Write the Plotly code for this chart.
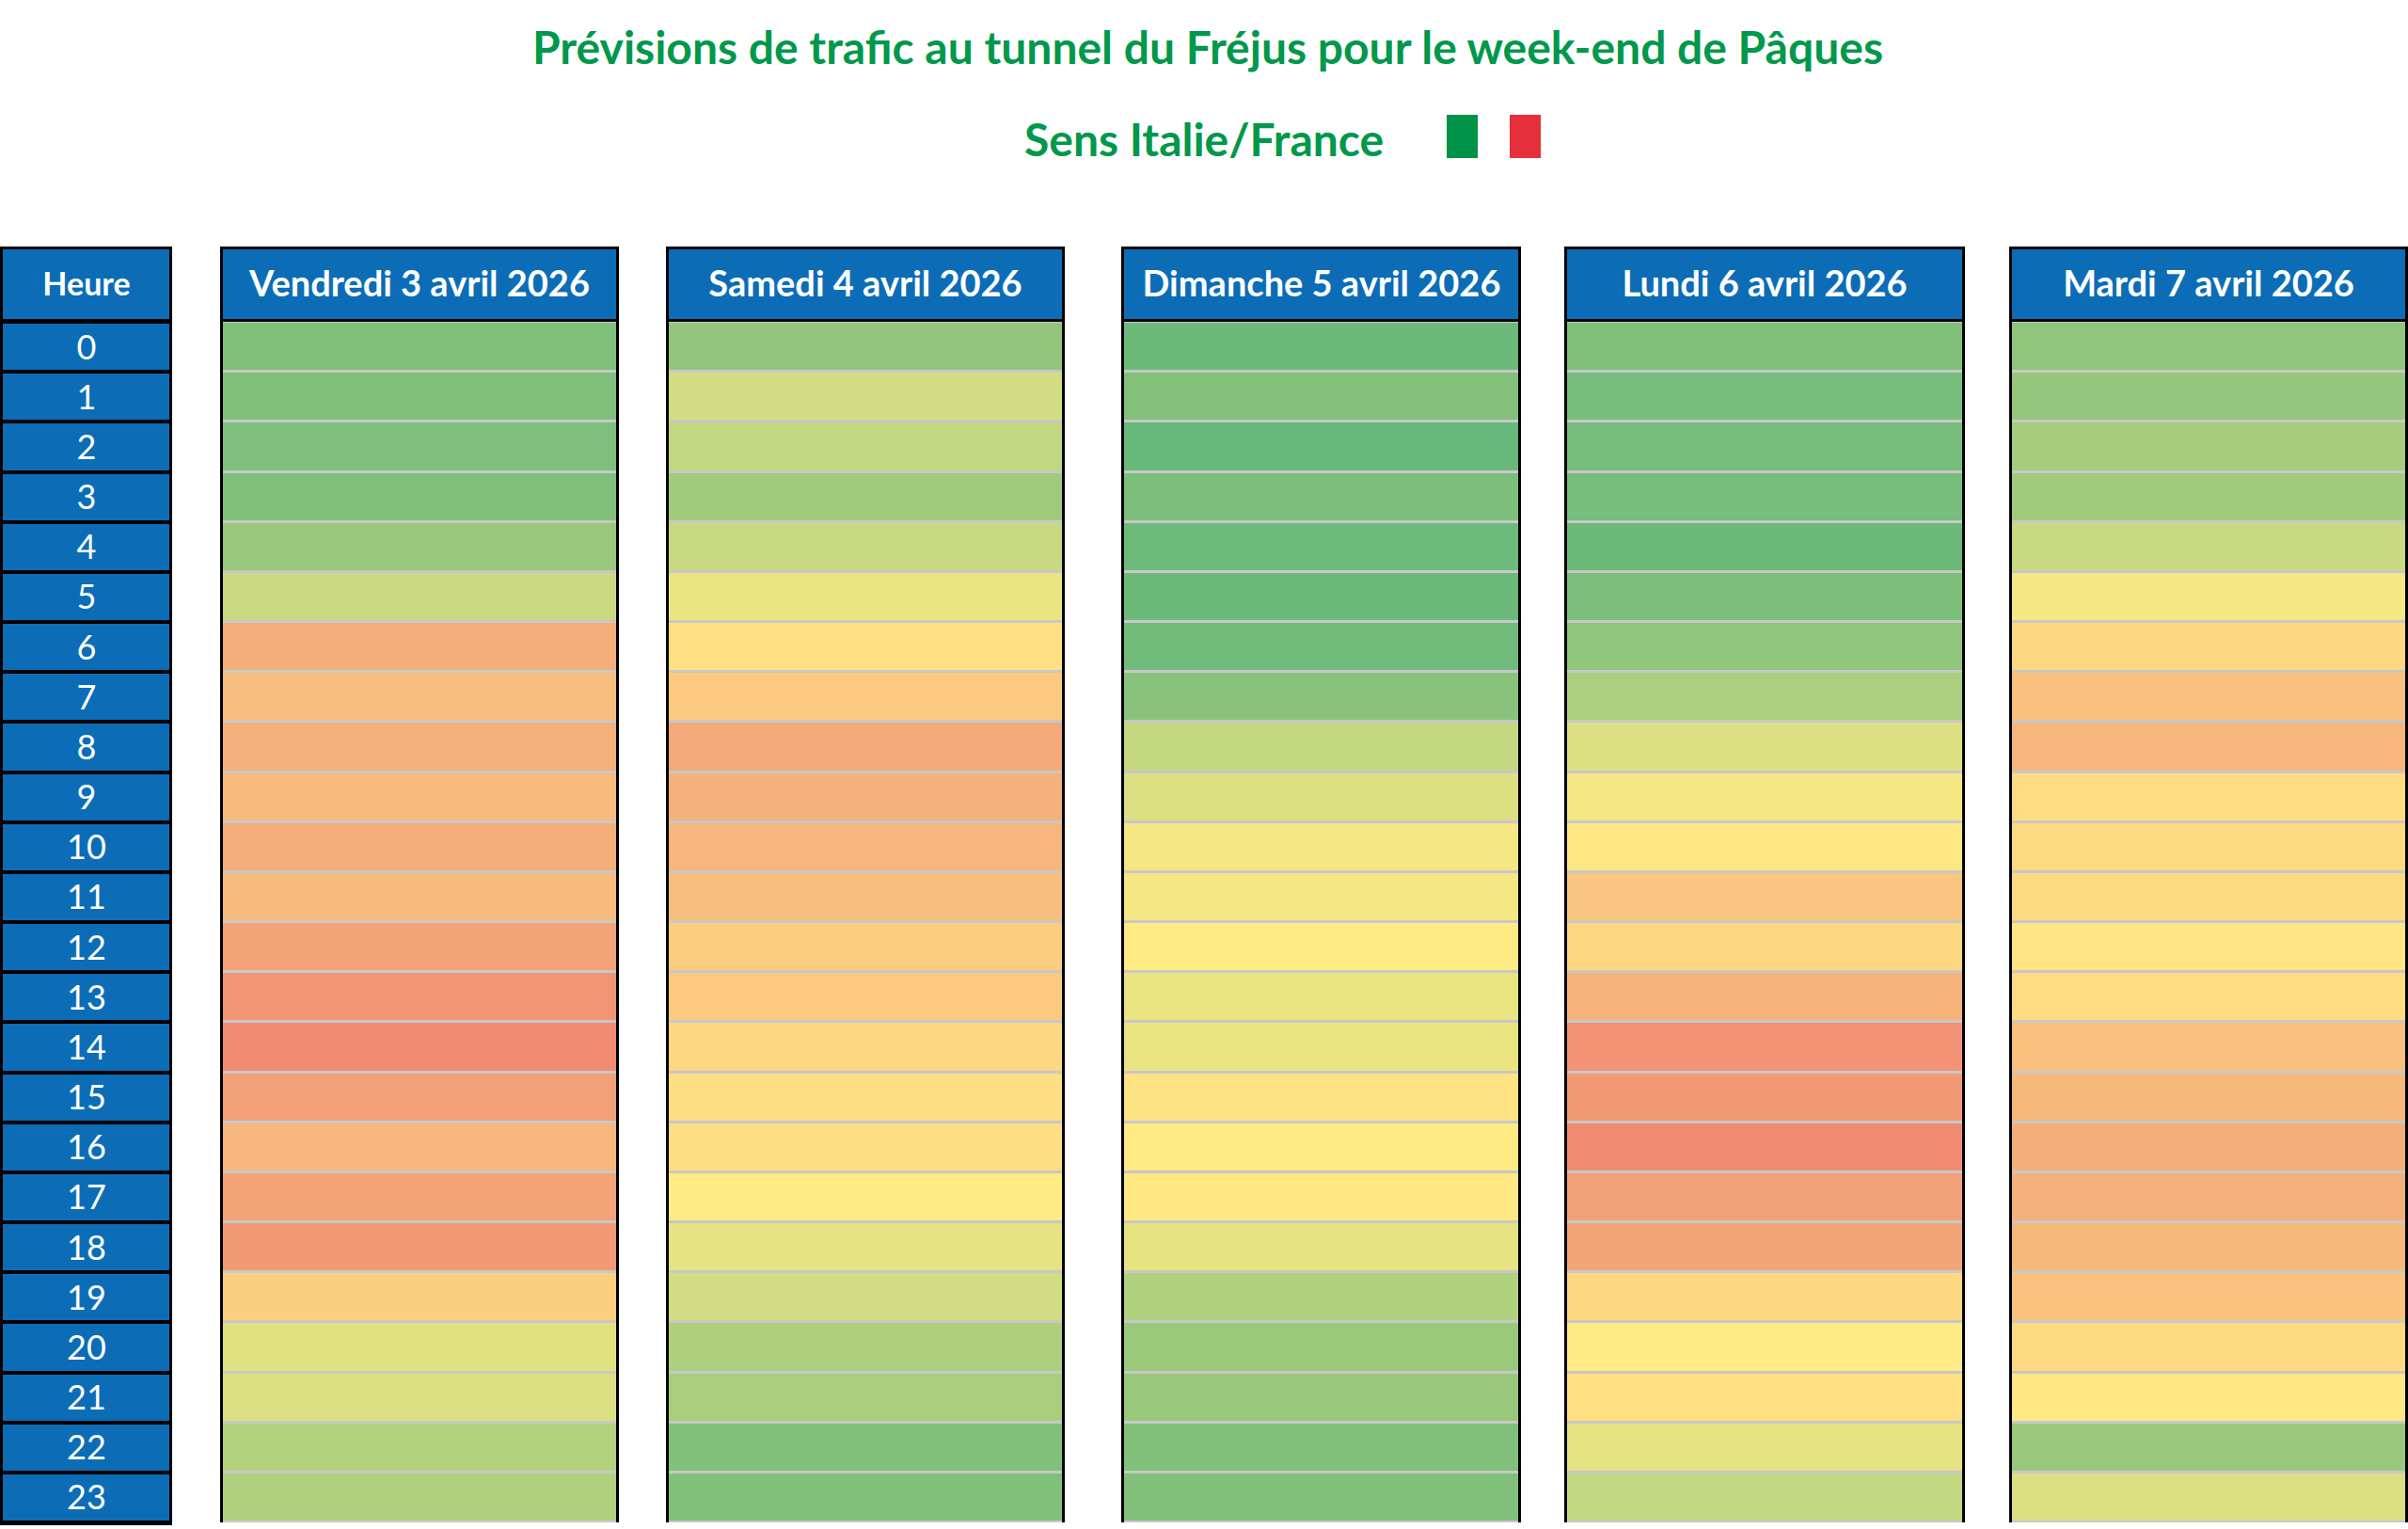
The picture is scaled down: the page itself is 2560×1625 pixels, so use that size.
import plotly.graph_objects as go

# ---------------- data ----------------
titre = "Prévisions de trafic au tunnel du Fréjus pour le week-end de Pâques"
sous_titre = "Sens Italie/France"
entete_heure = "Heure"
heures = ["0", "1", "2", "3", "4", "5", "6", "7", "8", "9", "10", "11",
          "12", "13", "14", "15", "16", "17", "18", "19", "20", "21", "22", "23"]
jours = ["Vendredi 3 avril 2026", "Samedi 4 avril 2026", "Dimanche 5 avril 2026",
         "Lundi 6 avril 2026", "Mardi 7 avril 2026"]

# traffic intensity index (0 = fluide / vert, 50 = jaune, 100 = très chargé / rouge)
vendredi = [12, 12, 11, 12, 20, 38, 74, 68, 73, 69, 74, 69,
            79, 85, 89, 80, 71, 79, 83, 61, 44, 43, 31, 30]
samedi = [18, 40, 35, 23, 37, 46, 54, 63, 76, 73, 71, 68,
          62, 63, 58, 55, 55, 50, 45, 40, 29, 26, 12, 12]
dimanche = [3, 13, 1, 10, 4, 3, 6, 15, 36, 43, 48, 48,
            50, 46, 46, 53, 50, 51, 45, 30, 21, 20, 12, 12]
lundi = [12, 8, 8, 8, 3, 10, 17, 28, 43, 48, 51, 65,
         58, 72, 86, 83, 89, 80, 78, 58, 50, 54, 45, 35]
mardi = [17, 19, 25, 23, 37, 48, 58, 67, 71, 56, 57, 57,
         52, 56, 67, 70, 74, 73, 70, 66, 57, 51, 20, 43]
valeurs = [vendredi, samedi, dimanche, lundi, mardi]

# ---------------- styling ----------------
W, H = 2560, 1625
BLUE = "#0C6DB6"
GREEN_TXT = "#00984A"
GRID = "#C8C8C8"
FONT = "Lato"
SCALE = [[0.00, "#64B87A"], [0.12, "#80C07B"], [0.20, "#99C87C"], [0.30, "#B0D17E"],
         [0.43, "#DCE082"], [0.50, "#FFEA84"], [0.62, "#FCCD80"], [0.74, "#F4AE7A"],
         [0.89, "#F08C72"], [1.00, "#EE806F"]]

col_px = [(3, 180), (237, 655), (711, 1129), (1195, 1614), (1666, 2086), (2139, 2557)]
head_px = (265, 339)
body_px = (342, 1618)


def dom_x(a, b):
    return [a / W, b / W]


def dom_y(top, bottom):
    return [1 - bottom / H, 1 - top / H]


fig = go.Figure()
layout_axes = {}
n_rows = len(heures)
ys = list(range(n_rows))

for i, (a, b) in enumerate(col_px):
    nh = 2 * i + 1
    nb = 2 * i + 2
    sh = "" if nh == 1 else str(nh)
    sb = str(nb)
    is_heure = i == 0

    # header cell
    head_text = entete_heure if is_heure else jours[i - 1]
    fig.add_trace(go.Heatmap(
        z=[[1]], x=[0], y=[0], text=[[head_text]], texttemplate="%{text}",
        textfont=dict(family=FONT, size=34 if is_heure else 38, color="white", weight="bold"),
        colorscale=[[0, BLUE], [1, BLUE]], zmin=0, zmax=1, showscale=False,
        hoverinfo="skip", xaxis="x" + sh, yaxis="y" + sh))
    layout_axes["xaxis" + sh] = dict(domain=dom_x(a, b), anchor="y" + sh, range=[-0.5, 0.5],
                                     showgrid=False, zeroline=False, showticklabels=False,
                                     ticks="", showline=True, mirror=True,
                                     linecolor="black", linewidth=3)
    layout_axes["yaxis" + sh] = dict(domain=dom_y(*head_px), anchor="x" + sh, range=[0.5, -0.5],
                                     showgrid=False, zeroline=False, showticklabels=False,
                                     ticks="", showline=True, mirror=True,
                                     linecolor="black", linewidth=3)

    # body
    if is_heure:
        fig.add_trace(go.Heatmap(
            z=[[0] for _ in heures], x=[0], y=ys, colorscale=[[0, "black"], [1, "black"]],
            zmin=0, zmax=1, showscale=False, hoverinfo="skip",
            xaxis="x" + sb, yaxis="y" + sb))
        fig.add_trace(go.Heatmap(
            z=[[1] for _ in heures], x=[0], y=ys, text=[[h] for h in heures],
            texttemplate="%{text}", textfont=dict(family=FONT, size=36, color="white"),
            colorscale=[[0, BLUE], [1, BLUE]], zmin=0, zmax=1, showscale=False,
            ygap=4, hoverinfo="skip", xaxis="x" + sb, yaxis="y" + sb))
    else:
        vals = valeurs[i - 1]
        fig.add_trace(go.Heatmap(
            z=[[v] for v in vals], x=[0], y=ys, colorscale=SCALE, zmin=0, zmax=100,
            showscale=False, ygap=3, hoverinfo="skip",
            xaxis="x" + sb, yaxis="y" + sb))
    layout_axes["xaxis" + sb] = dict(domain=dom_x(a, b), anchor="y" + sb, range=[-0.5, 0.5],
                                     showgrid=False, zeroline=False, showticklabels=False,
                                     ticks="", showline=is_heure, mirror=True,
                                     linecolor="black", linewidth=3)
    layout_axes["yaxis" + sb] = dict(domain=dom_y(*body_px), anchor="x" + sb,
                                     range=[n_rows - 0.5, -0.5],
                                     showgrid=False, zeroline=False, showticklabels=False,
                                     ticks="", showline=True, mirror=True,
                                     linecolor="black", linewidth=3)

fig.update_layout(
    width=W, height=H, autosize=False,
    margin=dict(l=0, r=0, t=0, b=0),
    paper_bgcolor="white", plot_bgcolor=GRID,
    showlegend=False,
    **layout_axes,
)

fig.add_annotation(text="<b>" + titre + "</b>", xref="paper", yref="paper",
                   x=1284 / W, y=1 - 49 / H, xanchor="center", yanchor="middle",
                   showarrow=False, font=dict(family=FONT, size=48, color=GREEN_TXT))
fig.add_annotation(text="<b>" + sous_titre + "</b>", xref="paper", yref="paper",
                   x=1280 / W, y=1 - 148 / H, xanchor="center", yanchor="middle",
                   showarrow=False, font=dict(family=FONT, size=48, color=GREEN_TXT))

# Italian flag decoration
fig.add_shape(type="rect", xref="paper", yref="paper",
              x0=1538 / W, x1=1571 / W, y0=1 - 168 / H, y1=1 - 122 / H,
              fillcolor="#009246", line=dict(width=0))
fig.add_shape(type="rect", xref="paper", yref="paper",
              x0=1605 / W, x1=1638 / W, y0=1 - 168 / H, y1=1 - 122 / H,
              fillcolor="#E5303C", line=dict(width=0))

fig.write_html("out.html", config={"displayModeBar": False},
               post_script="document.body.style.margin='0';document.body.style.overflow='hidden';")
